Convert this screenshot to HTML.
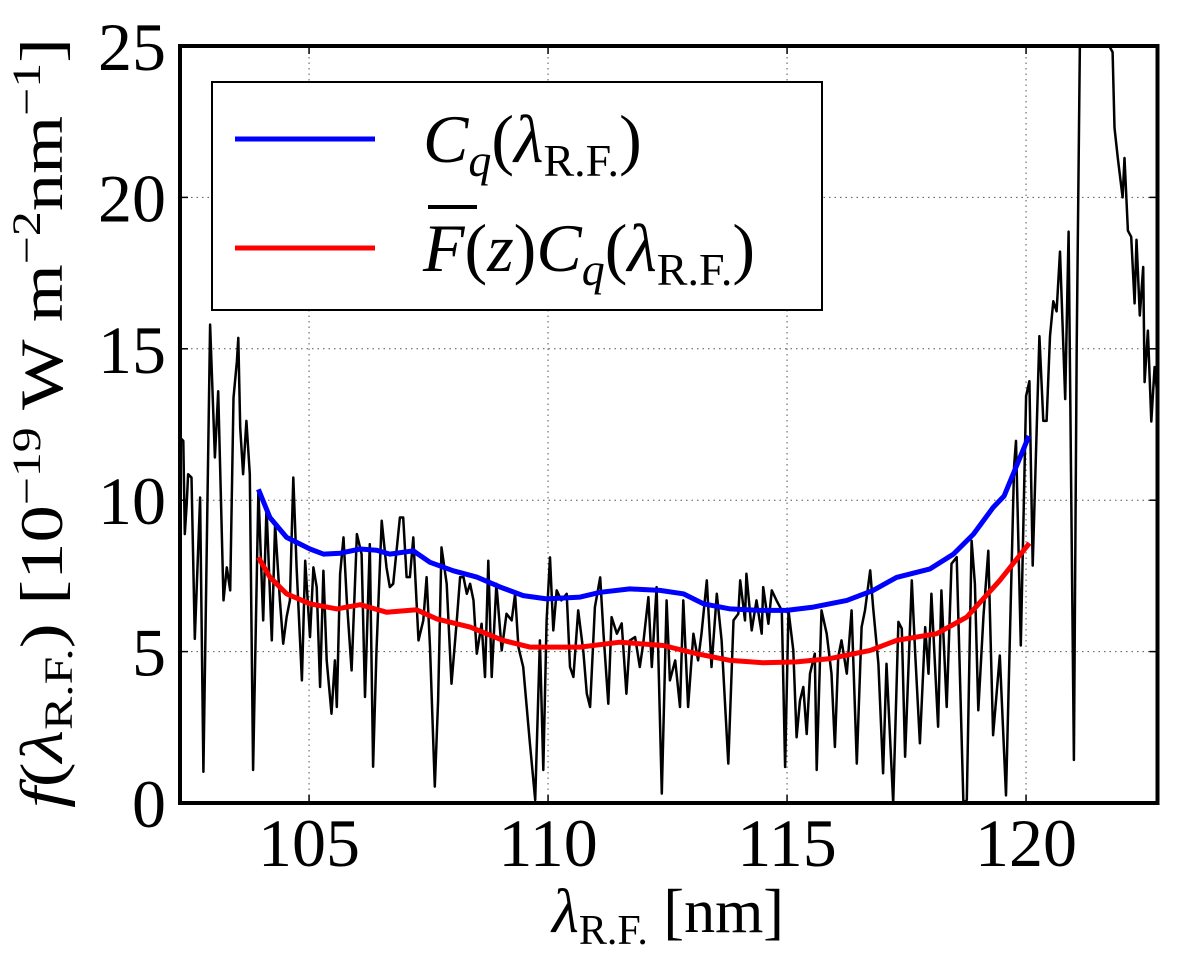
<!DOCTYPE html>
<html><head><meta charset="utf-8"><style>
html,body{margin:0;padding:0;background:#fff;}
svg{display:block;}
svg text{font-family:"Liberation Serif","DejaVu Serif",serif;}
</style></head><body>
<svg id="chart" width="1200" height="961" viewBox="0 0 1200 961" xmlns="http://www.w3.org/2000/svg" font-family="Liberation Serif, serif">
<g id="grid"></g>
<g id="series"></g>
<rect x="180" y="46" width="977.5" height="757" fill="none" stroke="#000" stroke-width="4"/>
<g id="ticks"></g>
<text x="668" y="932" font-size="62" text-anchor="middle" font-family="Liberation Serif, serif"><tspan font-style="italic">λ</tspan><tspan font-size="42" dy="12">R.F.</tspan><tspan dy="-12"> [nm]</tspan></text>
<text transform="translate(62,423) rotate(-90)" font-size="60" text-anchor="middle" textLength="770" lengthAdjust="spacingAndGlyphs" font-family="Liberation Serif, serif"><tspan font-style="italic">f</tspan>(<tspan font-style="italic">λ</tspan><tspan font-size="40" dy="10">R.F.</tspan><tspan dy="-10">) [10</tspan><tspan font-size="40" dy="-22">−19</tspan><tspan dy="22"> W m</tspan><tspan font-size="40" dy="-22">−2</tspan><tspan dy="22">nm</tspan><tspan font-size="40" dy="-22">−1</tspan><tspan dy="22">]</tspan></text>
<g>
<rect x="212" y="82" width="610" height="228" fill="#fff" stroke="#000" stroke-width="2"/>
<line x1="235" y1="139" x2="375" y2="139" stroke="#0000ff" stroke-width="5"/>
<text x="423" y="162" font-size="68" font-family="Liberation Serif, serif"><tspan font-style="italic">C</tspan><tspan font-style="italic" font-size="46" dy="14">q</tspan><tspan dy="-14">(</tspan><tspan font-style="italic">λ</tspan><tspan font-size="46" dy="14">R.F.</tspan><tspan dy="-14">)</tspan></text>
<line x1="235" y1="248" x2="375" y2="248" stroke="#ff0000" stroke-width="5"/>
<line x1="428" y1="207" x2="477" y2="207" stroke="#000" stroke-width="4"/>
<text x="423" y="271" font-size="68" font-family="Liberation Serif, serif"><tspan font-style="italic">F</tspan>(<tspan font-style="italic">z</tspan>)<tspan font-style="italic">C</tspan><tspan font-style="italic" font-size="46" dy="14">q</tspan><tspan dy="-14">(</tspan><tspan font-style="italic">λ</tspan><tspan font-size="46" dy="14">R.F.</tspan><tspan dy="-14">)</tspan></text>
</g>
</svg>
<script>
const xTicks=[105,110,115,120];
const yTicks=[0,5,10,15,20,25];
const fluxLam=[102.30,102.37,102.40,102.44,102.47,102.54,102.61,102.72,102.79,102.93,103.03,103.10,103.21,103.28,103.35,103.42,103.49,103.52,103.56,103.62,103.69,103.76,103.83,103.94,104.04,104.11,104.22,104.29,104.39,104.46,104.53,104.60,104.67,104.74,104.85,104.92,105.02,105.09,105.16,105.23,105.30,105.37,105.47,105.54,105.58,105.65,105.72,105.79,105.89,106.00,106.10,106.17,106.27,106.34,106.41,106.52,106.62,106.69,106.76,106.90,106.97,107.04,107.11,107.18,107.29,107.39,107.46,107.53,107.63,107.70,107.77,107.88,107.98,108.09,108.16,108.23,108.30,108.37,108.44,108.51,108.61,108.68,108.75,108.82,108.92,109.03,109.13,109.24,109.31,109.38,109.48,109.62,109.73,109.83,109.90,109.97,110.04,110.11,110.18,110.28,110.39,110.46,110.53,110.63,110.74,110.81,110.88,110.98,111.09,111.16,111.26,111.33,111.44,111.54,111.64,111.71,111.82,111.92,111.99,112.10,112.17,112.27,112.38,112.48,112.55,112.66,112.76,112.83,112.93,113.04,113.14,113.21,113.32,113.42,113.53,113.63,113.77,113.88,113.98,114.02,114.12,114.15,114.26,114.36,114.47,114.50,114.61,114.68,114.78,114.89,114.96,115.03,115.13,115.20,115.27,115.34,115.41,115.48,115.58,115.62,115.72,115.83,115.93,116.00,116.07,116.14,116.25,116.35,116.46,116.56,116.63,116.74,116.80,116.91,117.01,117.08,117.22,117.33,117.40,117.47,117.61,117.68,117.78,117.89,117.96,118.02,118.16,118.23,118.34,118.44,118.55,118.69,118.76,118.86,118.93,119.00,119.11,119.21,119.31,119.45,119.58,119.75,119.79,119.89,120.00,120.07,120.14,120.28,120.36,120.43,120.50,120.57,120.64,120.71,120.82,120.89,121.00,121.06,121.14,121.67,121.74,121.81,121.85,121.92,122.02,122.06,122.13,122.20,122.27,122.31,122.38,122.45,122.48,122.55,122.62,122.69,122.77];
const fluxVal=[12.07,11.96,8.88,9.87,10.86,10.75,5.42,10.09,1.03,15.80,11.41,13.60,6.69,7.78,7.02,13.38,14.59,15.36,12.40,10.86,12.62,10.86,1.09,10.31,6.03,9.76,5.37,9.21,6.69,5.26,6.14,6.69,10.75,7.78,4.05,8.00,5.48,7.78,7.13,3.83,7.67,4.71,2.95,4.71,3.17,7.56,8.77,6.69,4.38,8.88,8.22,3.50,8.55,1.20,5.04,9.32,7.78,7.13,7.24,9.43,9.43,7.46,7.46,8.77,5.37,6.03,7.46,5.15,0.54,3.39,8.44,7.24,3.94,6.03,7.46,7.46,6.91,7.24,6.69,4.93,5.92,4.16,8.00,4.16,7.24,5.04,6.25,6.03,6.91,5.15,4.49,1.97,0.10,5.37,1.09,6.03,8.11,5.70,7.02,6.69,6.91,4.49,4.16,6.36,4.98,3.61,3.17,6.47,7.45,5.59,3.28,6.14,5.59,5.93,3.61,5.37,5.48,4.49,5.26,6.80,4.49,7.13,0.31,6.69,4.05,4.71,3.17,6.69,3.17,5.59,4.71,5.59,7.35,4.49,6.91,5.37,1.30,6.03,6.25,7.35,6.03,7.57,5.70,6.69,5.59,7.13,5.92,7.02,6.69,6.36,1.19,6.36,5.04,2.17,3.39,3.83,2.28,4.27,4.93,1.09,6.36,5.59,4.27,1.85,4.82,5.37,4.27,6.36,1.30,5.81,6.36,7.68,6.47,4.60,0.98,4.60,0.00,5.98,5.76,1.53,7.35,4.93,1.97,5.81,4.27,6.91,2.52,7.02,3.17,7.90,8.12,0.00,0.10,8.66,7.24,3.06,6.19,8.33,2.24,4.87,0.25,11.13,11.96,5.20,13.44,13.93,7.84,15.42,12.62,12.62,15.42,16.57,16.24,18.21,13.34,18.87,1.42,15.09,27.0,27.0,25.0,24.8,22.3,21.3,20.0,21.3,18.9,18.7,16.5,18.6,16.1,17.7,13.9,15.6,12.6,14.4,13.1];
const cqLam=[103.94,104.18,104.53,105.02,105.30,105.65,106.07,106.41,106.69,107.18,107.53,108.02,108.51,109.00,109.48,109.97,110.67,111.09,111.71,112.34,112.83,113.25,113.81,114.43,114.99,115.55,116.25,116.80,117.29,117.99,118.48,118.90,119.31,119.54,120.06];
const cqVal=[10.36,9.43,8.77,8.39,8.22,8.25,8.39,8.35,8.22,8.33,7.95,7.67,7.46,7.13,6.85,6.74,6.80,6.96,7.07,7.02,6.91,6.58,6.41,6.36,6.36,6.47,6.69,7.02,7.45,7.73,8.22,8.88,9.76,10.14,12.12];
const fcqLam=[103.94,104.18,104.53,105.02,105.58,106.07,106.62,107.25,107.67,108.37,109.06,109.62,110.67,111.50,112.41,113.11,113.81,114.50,115.20,115.90,116.74,117.29,118.13,118.76,119.45,120.07];
const fcqVal=[8.11,7.46,6.91,6.58,6.41,6.55,6.30,6.38,6.08,5.81,5.37,5.15,5.15,5.31,5.20,4.93,4.71,4.63,4.66,4.77,5.04,5.37,5.59,6.14,7.35,8.58];

const X0=180,X1=1157.5,Y0=803,Y1=46,XMIN=102.3,XMAX=122.75,YMIN=0,YMAX=25;
const xs=v=>X0+(v-XMIN)/(XMAX-XMIN)*(X1-X0);
const ys=v=>Y0-(v-YMIN)/(YMAX-YMIN)*(Y0-Y1);
const NS="http://www.w3.org/2000/svg";
const grid=document.getElementById('grid'),ticks=document.getElementById('ticks'),series=document.getElementById('series');
function mk(tag,parent){const e=document.createElementNS(NS,tag);parent.appendChild(e);return e;}
xTicks.forEach(t=>{
  const g=mk('line',grid);
  
  
  g.setAttribute('x1',xs(t));g.setAttribute('x2',xs(t));g.setAttribute('y1',Y1);g.setAttribute('y2',Y0);
  g.setAttribute('stroke','#555');g.setAttribute('stroke-width','1');g.setAttribute('stroke-dasharray','1.5,4');
  const tl=mk('text',ticks);
  
  
  tl.setAttribute('x',xs(t));tl.setAttribute('y',866);tl.setAttribute('font-size','68');tl.setAttribute('text-anchor','middle');
  tl.setAttribute('font-family','Liberation Serif, serif');
  tl.textContent=t;
  [Y0,Y1].forEach((yy,i)=>{const tk=mk('line',ticks);
    
    
    tk.setAttribute('x1',xs(t));tk.setAttribute('x2',xs(t));tk.setAttribute('y1',yy);tk.setAttribute('y2',i?yy+8:yy-8);tk.setAttribute('stroke','#000');tk.setAttribute('stroke-width','1.5');});
});
yTicks.forEach(t=>{
  if(t>YMIN&&t<YMAX){const g=mk('line',grid);
  
  
  g.setAttribute('x1',X0);g.setAttribute('x2',X1);g.setAttribute('y1',ys(t));g.setAttribute('y2',ys(t));
  g.setAttribute('stroke','#555');g.setAttribute('stroke-width','1');g.setAttribute('stroke-dasharray','1.5,4');}
  const tl=mk('text',ticks);
  
  
  tl.setAttribute('x',166);tl.setAttribute('y',ys(t)+24);tl.setAttribute('font-size','68');tl.setAttribute('text-anchor','end');
  tl.setAttribute('font-family','Liberation Serif, serif');
  tl.textContent=t;
  [X0,X1].forEach((xx,i)=>{const tk=mk('line',ticks);
    
    
    tk.setAttribute('x1',xx);tk.setAttribute('x2',i?xx-8:xx+8);tk.setAttribute('y1',ys(t));tk.setAttribute('y2',ys(t));tk.setAttribute('stroke','#000');tk.setAttribute('stroke-width','1.5');});
});
const cp=mk('clipPath',series);cp.setAttribute('id','clip');
const cr=mk('rect',cp);cr.setAttribute('x',X0);cr.setAttribute('y',Y1);cr.setAttribute('width',X1-X0);cr.setAttribute('height',Y0-Y1);
function line(lx,ly,color,w){
  const p=mk('polyline',series);
  p.setAttribute('points',lx.map((l,i)=>xs(l).toFixed(1)+','+ys(ly[i]).toFixed(1)).join(' '));
  p.setAttribute('fill','none');p.setAttribute('stroke',color);p.setAttribute('stroke-width',w);
  p.setAttribute('stroke-linejoin','round');p.setAttribute('clip-path','url(#clip)');
  return p;
}
const pf=line(fluxLam,fluxVal,'#000',2.5);


const pc=line(cqLam,cqVal,'#0000ff',5);


const pr=line(fcqLam,fcqVal,'#ff0000',5);


</script>
</body></html>
